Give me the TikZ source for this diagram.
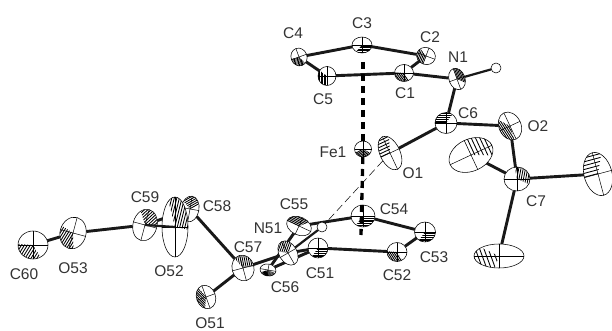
\documentclass[tikz,border=0pt]{standalone}
\usepackage{fontspec}
\setmainfont{Liberation Sans}
\usetikzlibrary{shapes.geometric,backgrounds}
\tikzset{
  atomnode/.style={ellipse,draw=black,line width=0.55pt,fill=white,inner sep=0pt,outer sep=0pt},
  hnode/.style={circle,draw=black,line width=0.55pt,fill=white,inner sep=0pt,outer sep=0pt,minimum size=10pt},
  bond/.style={line width=2.9pt,black!90},
  thinbond/.style={line width=2.2pt,black!90},
  metaldash/.style={line width=3.3pt,black,dash pattern=on 7pt off 5pt},
  hbond/.style={line width=0.5pt,black,dash pattern=on 8pt off 4pt},
  lab/.style={font=\fontsize{15.5pt}{16pt}\selectfont,text=black!80,inner sep=0pt},
  axisline/.style={line width=0.5pt,black},
  hatchline/.style={line width=0.85pt,black}
}
% name, x, y, rx, ry, rotation, hatch sector start
\newcommand{\atm}[7]{%
  \node[atomnode,minimum width=#4*2pt,minimum height=#5*2pt,rotate=#6] (#1) at (#2,#3) {};
  \begin{scope}[shift={(#2,#3)},rotate=#6,xscale=#4,yscale=#5]
    \draw[axisline] (-1,0) -- (1,0) (0,-1) -- (0,1);
    \begin{scope}
      \clip (0,0) circle [radius=1];
      \pgfmathsetmacro{\ma}{#7+60}\pgfmathsetmacro{\mb}{#7+125}
      \clip (0,0) -- (#7:2) -- (\ma:2) -- (\mb:2) -- cycle;
      \begin{scope}[rotate=#7]
        \foreach \h in {-1,-0.83,...,1.01} \draw[hatchline] (-1,\h) -- (1,\h);
      \end{scope}
    \end{scope}
  \end{scope}
}
\begin{document}
\begin{tikzpicture}[x=1pt,y=-1pt]
\useasboundingbox (0,0) rectangle (612,331);
\coordinate (ctop) at (363,62);
\coordinate (cbot) at (361,235);
% far atoms first
\atm{C58}{190}{209}{9}{13}{-10}{-150}
\atm{C56}{268}{270}{8}{6}{-10}{20}
\atm{C55}{299}{226}{13}{9}{-25}{180}
\atm{C3}{362}{45}{10}{8}{0}{0}
\atm{C2}{426}{56}{9.5}{8.5}{-20}{90}
\atm{C4}{299}{57}{8}{9}{20}{60}
\atm{C5}{327}{76}{9}{9.5}{0}{90}
\atm{C1}{404}{73}{9.5}{8.5}{0}{60}
\atm{N1}{457}{79}{8}{11}{20}{-90}
\node[hnode] (H1) at (496,68) {};
\atm{C6}{446}{123}{11}{10.5}{0}{180}
\atm{O2}{510}{126}{11}{14.5}{25}{100}
\atm{Fe1}{363}{149}{8.5}{8}{0}{30}
\atm{O1}{390}{153}{10}{18}{25}{180}
\atm{C7}{517}{179}{13}{12}{0}{-100}
\atm{Me1}{471}{155}{23}{16}{25}{-90}
\atm{Me2}{598}{174}{14}{22}{15}{180}
\atm{Me3}{499}{256}{25}{12}{0}{100}
\atm{C54}{363}{216}{12}{11}{0}{0}
\atm{C53}{425}{232}{10.5}{10}{0}{0}
\atm{C52}{397}{252}{10}{9.5}{0}{60}
\atm{C51}{318}{248}{10}{10}{0}{0}
\node[hnode] (H51) at (322,227) {};
\atm{N51}{288}{253}{9}{13}{30}{-150}
\atm{C57}{243}{268}{11}{13}{15}{-120}
\atm{O51}{206}{297}{9.5}{12}{20}{120}
\atm{C59}{145}{225}{12}{16}{-15}{-130}
\atm{O52}{175}{227}{13}{30}{0}{-120}
\atm{O53}{73}{233}{13}{16}{-15}{70}
\atm{C60}{33}{245}{15}{14}{0}{60}
\begin{scope}[on background layer]
  \draw[bond] (C3) -- (C2);
  \draw[bond] (C3) -- (C4);
  \draw[bond] (C4) -- (C5);
  \draw[bond] (C5) -- (C1);
  \draw[bond] (C1) -- (C2);
  \draw[bond] (C1) -- (N1);
  \draw[thinbond] (N1) -- (H1);
  \draw[bond] (N1) -- (C6);
  \draw[bond] (C6) -- (O1);
  \draw[bond] (C6) -- (O2);
  \draw[bond] (O2) -- (C7);
  \draw[bond] (C7) -- (Me1);
  \draw[bond] (C7) -- (Me2);
  \draw[bond] (C7) -- (Me3);
  \draw[metaldash] (ctop) -- (Fe1);
  \draw[bond] (C58) -- (C57);
  \draw[bond] (C57) -- (O51);
  \draw[bond] (C57) -- (N51);
  \draw[bond] (N51) -- (C51);
  \draw[thinbond] (N51) -- (H51);
  \draw[bond] (C51) -- (C52);
  \draw[bond] (C52) -- (C53);
  \draw[bond] (C53) -- (C54);
  \draw[bond] (C54) -- (C55);
  \draw[bond] (C55) -- (C56);
  \draw[bond] (C56) -- (C51);
  \draw[bond] (C59) -- (C58);
  \draw[bond] (C59) -- (O53);
  \draw[bond] (O53) -- (C60);
\end{scope}
\draw[metaldash] (Fe1) -- (cbot);
\draw[hbond] (O1) -- (H51);
\draw[thinbond] (C59.center) -- (O52.center);
% labels
\node[lab] (lC4) at (293,33) {C4};
\node[lab] (lC3) at (362,23) {C3};
\node[lab] (lC2) at (430,37) {C2};
\node[lab] (lN1) at (458,57) {N1};
\node[lab] (lC5) at (323,99) {C5};
\node[lab] (lC1) at (405,93) {C1};
\node[lab] (lC6) at (468,113) {C6};
\node[lab] (lO2) at (538,126) {O2};
\node[lab] (lFe) at (333,152) {Fe1};
\node[lab] (lO1) at (413,173) {O1};
\node[lab] (lC7) at (536,201) {C7};
\node[lab] (lC54) at (394,209) {C54};
\node[lab] (lC55) at (294,204) {C55};
\node[lab] (lN51) at (268,228) {N51};
\node[lab] (lC53) at (434,257) {C53};
\node[lab] (lC52) at (397,275) {C52};
\node[lab] (lC51) at (320,273) {C51};
\node[lab] (lC56) at (285,287) {C56};
\node[lab] (lC57) at (248,247) {C57};
\node[lab] (lC58) at (217,206) {C58};
\node[lab] (lC59) at (145,197) {C59};
\node[lab] (lO52) at (169,271) {O52};
\node[lab] (lO53) at (73,268) {O53};
\node[lab] (lC60) at (24,274) {C60};
\node[lab] (lO51) at (210,323) {O51};
\end{tikzpicture}
\end{document}
